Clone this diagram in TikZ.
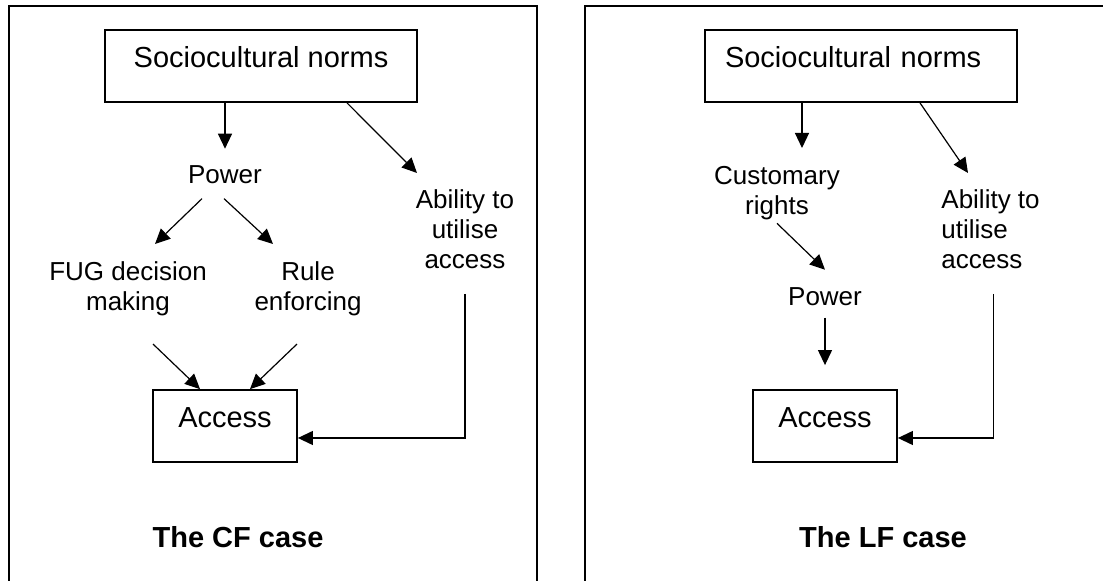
\documentclass[tikz,border=0pt]{standalone}
\usepackage{fontspec}
\setmainfont{Liberation Sans}
\usetikzlibrary{arrows.meta, positioning}

\begin{document}
\begin{tikzpicture}[
        x=0.5pt, y=-0.5pt,
        % Styles
        block/.style={
            rectangle, draw=black, line width=0.9pt,
            inner xsep=0pt, inner ysep=0pt,
            text height=19pt, text depth=17pt,
            font=\fontsize{14.5pt}{17pt}\selectfont
        },
        factor/.style={
            inner sep=0pt, align=center,
            font=\fontsize{13pt}{15pt}\selectfont
        },
        casetitle/.style={
            inner sep=0pt, font=\bfseries\fontsize{14.5pt}{17pt}\selectfont
        },
        panel/.style={line width=1pt},
        link/.style={
            -{Triangle[length=7.5pt, width=7pt]}, line width=0.6pt
        }
    ]
        \useasboundingbox (0,0) rectangle (1103,581);

        % Panels
        \draw[panel] (9,581) -- (9,6) -- (537,6) -- (537,581);
        \draw[panel] (585,581) -- (585,6) -- (1103,6);

        % The CF case
        \node[block, minimum width=156pt] (norms_cf) at (261,66) {Sociocultural norms};
        \node[factor, anchor=base] (power_cf) at (225,184) {Power};
        \node[factor, anchor=north] (ability_cf) at (465,189) {Ability to\\utilise\\access};
        \node[factor, anchor=north] (fug_cf) at (128,261) {FUG decision\\making};
        \node[factor, anchor=north] (rule_cf) at (308,261) {Rule\\enforcing};
        \node[block, minimum width=72pt] (access_cf) at (225,426) {Access};
        \node[casetitle, anchor=base] (title_cf) at (238,548) {The CF case};

        % The LF case
        \node[block, text width=136pt, inner xsep=10pt, align=left] (norms_lf) at (861,66) {Sociocultural norms};
        \node[factor, anchor=north] (custom_lf) at (777,166) {Customary\\rights};
        \node[factor, anchor=north west, align=left] (ability_lf) at (941,189) {Ability to\\utilise\\access};
        \node[factor, anchor=base] (power_lf) at (825,306) {Power};
        \node[block, minimum width=72pt] (access_lf) at (825,426) {Access};
        \node[casetitle, anchor=base] (title_lf) at (883,548) {The LF case};

        % Connections (CF)
        \draw[link, shorten >=8.5pt] (norms_cf.south -| power_cf.north) -- (power_cf.north);
        \draw[link] ([xshift=43pt]norms_cf.south) -- ([xshift=-24pt, yshift=8pt]ability_cf.north);
        \draw[link] ([xshift=-11.5pt, yshift=-7pt]power_cf.south) -- ([xshift=13.5pt, yshift=8.5pt]fug_cf.north);
        \draw[link] ([xshift=-0.5pt, yshift=-7pt]power_cf.south) -- ([xshift=-17.5pt, yshift=8.5pt]rule_cf.north);
        \draw[link] ([xshift=12.5pt, yshift=-14pt]fug_cf.south) -- ([xshift=-12.5pt]access_cf.north);
        \draw[link] ([xshift=-5.5pt, yshift=-14pt]rule_cf.south) -- ([xshift=12.5pt]access_cf.north);
        \draw[link] ([yshift=-12.5pt]ability_cf.south) |- ([yshift=-6pt]access_cf.east);

        % Connections (LF)
        \draw[link] ([xshift=-29.5pt]norms_lf.south) -- ([xshift=12.5pt, yshift=9pt]custom_lf.north);
        \draw[link] ([xshift=29.5pt]norms_lf.south) -- ([xshift=13.5pt, yshift=8pt]ability_lf.north west);
        \draw[link] ([yshift=-1.5pt]custom_lf.south) -- ([yshift=9pt]power_lf.north);
        \draw[link] ([yshift=-5.5pt]power_lf.south) -- ([yshift=12pt]access_lf.north);
        \draw[link] ([xshift=1.5pt, yshift=-12.5pt]ability_lf.south) |- ([yshift=-6pt]access_lf.east);

    \end{tikzpicture}
\end{document}
